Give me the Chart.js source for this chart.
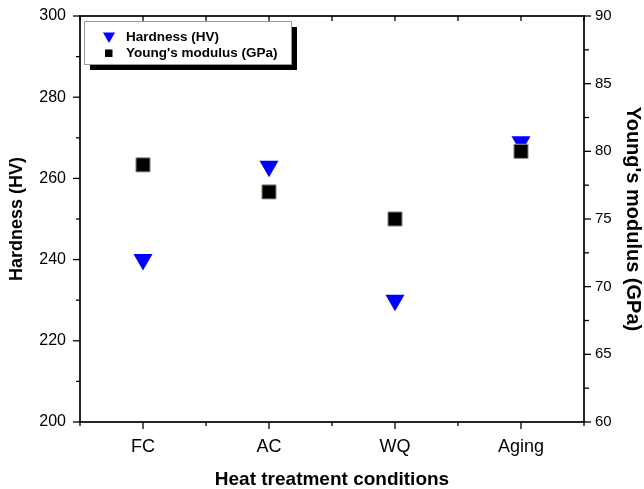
<!DOCTYPE html>
<html>
<head>
<meta charset="utf-8">
<script src="https://cdn.jsdelivr.net/npm/chart.js@4/dist/chart.umd.min.js"></script>
<style>
	body { margin: 0; background: #fff; }
	#wrap { width: 644px; height: 489px; position: relative; }
</style>
</head>
<body>
<div id="wrap"><canvas id="hardnessChart"></canvas></div>
<script>
const categories = ["FC", "AC", "WQ", "Aging"];
const hardness = [240, 263, 230, 269];
const youngsModulus = [79, 77, 75, 80];
const hardnessLabel = "Hardness (HV)";
const modulusLabel = "Young's modulus (GPa)";

const FONT = "'Liberation Sans', Arial, sans-serif";

// frame, tick marks (major/minor) and the boxed legend, Origin style
const axisFrame = {
	id: "axisFrame",
	afterDraw(chart) {
		const { ctx, chartArea: a, scales } = chart;
		const line = (x1, y1, x2, y2) => {
			ctx.beginPath();
			ctx.moveTo(x1, y1);
			ctx.lineTo(x2, y2);
			ctx.stroke();
		};
		ctx.save();
		ctx.strokeStyle = "#000";
		ctx.lineWidth = 1.3;

		const xs = scales.x;
		categories.forEach((c, i) => {
			const px = xs.getPixelForValue(i);
			line(px, a.bottom, px, a.bottom + 7);
			line(px, a.top, px, a.top + 5);
		});
		for (let i = 0; i <= categories.length; i++) {
			const px = xs.getPixelForValue(i - 0.5);
			line(px, a.bottom, px, a.bottom + 4);
			line(px, a.top, px, a.top + 5);
		}

		scales.y.ticks.forEach((t) => {
			const py = scales.y.getPixelForValue(t.value);
			line(a.left - (t.value % 20 === 0 ? 7 : 4), py, a.left, py);
		});
		scales.y1.ticks.forEach((t) => {
			const py = scales.y1.getPixelForValue(t.value);
			line(a.right, py, a.right + (t.value % 5 === 0 ? 7 : 5), py);
		});

		ctx.lineWidth = 1.7;
		ctx.strokeRect(a.left, a.top, a.right - a.left, a.bottom - a.top);

		// legend box with drop shadow
		const lx = a.left + 4, ly = a.top + 5, lw = 207, lh = 43;
		ctx.fillStyle = "#000";
		ctx.fillRect(lx + 6, ly + 6, lw, lh);
		ctx.fillStyle = "#fff";
		ctx.fillRect(lx, ly, lw, lh);
		ctx.strokeStyle = "#999";
		ctx.lineWidth = 1;
		ctx.strokeRect(lx + 0.5, ly + 0.5, lw, lh);

		const mx = lx + 25;
		const r = 7;
		const t1 = ly + 15, t2 = ly + 32;
		ctx.fillStyle = "#0000ff";
		ctx.beginPath();
		ctx.moveTo(mx - r * 0.866, t1 - r / 2);
		ctx.lineTo(mx + r * 0.866, t1 - r / 2);
		ctx.lineTo(mx, t1 + r);
		ctx.closePath();
		ctx.fill();
		ctx.fillStyle = "#000";
		ctx.fillRect(mx - 4, t2 - 3.5, 7.5, 7.5);

		ctx.font = "bold 13.5px " + FONT;
		ctx.textBaseline = "middle";
		ctx.textAlign = "left";
		ctx.fillText(chart.data.datasets[0].label, lx + 42, t1 + 1);
		ctx.fillText(chart.data.datasets[1].label, lx + 42, t2 + 0);
		ctx.restore();
	},
};

document.addEventListener("DOMContentLoaded", function () {
	const ctx = document.getElementById("hardnessChart").getContext("2d");

	new Chart(ctx, {
		type: "line",
		data: {
			labels: categories,
			datasets: [
				{
					label: hardnessLabel,
					data: hardness,
					yAxisID: "y",
					showLine: false,
					pointStyle: "triangle",
					rotation: 180,
					pointRadius: 11,
					pointBackgroundColor: "#0000ff",
					pointBorderColor: "#0000ff",
					pointBorderWidth: 0,
					order: 1,
				},
				{
					label: modulusLabel,
					data: youngsModulus,
					yAxisID: "y1",
					showLine: false,
					pointStyle: "rect",
					pointRadius: 10,
					pointBackgroundColor: "#000",
					pointBorderColor: "#999",
					pointBorderWidth: 1,
					order: 0,
				},
			],
		},
		options: {
			responsive: true,
			maintainAspectRatio: false,
			animation: false,
			layout: { padding: { top: 16, left: 0, right: 0, bottom: 0 } },
			plugins: {
				legend: { display: false },
				tooltip: { enabled: false },
			},
			scales: {
				x: {
					type: "category",
					offset: true,
					grid: { display: false, drawTicks: false },
					border: { display: false },
					ticks: {
						color: "#000",
						padding: 14,
						font: { family: FONT, size: 18 },
					},
					title: {
						display: true,
						text: "Heat treatment conditions",
						color: "#000",
						padding: { top: 0, bottom: -2 },
						font: { family: FONT, size: 19, weight: "bold" },
					},
					afterFit: (s) => {
						s.height = 67;
						s.paddingLeft = 0;
						s.paddingRight = 0;
					},
				},
				y: {
					position: "left",
					min: 200,
					max: 300,
					grid: { display: false, drawTicks: false },
					border: { display: false },
					ticks: {
						stepSize: 10,
						autoSkip: false,
						color: "#000",
						padding: 14,
						font: { family: FONT, size: 16 },
						callback: (v) => (v % 20 === 0 ? v : ""),
					},
					title: {
						display: true,
						text: hardnessLabel,
						color: "#000",
						padding: { top: 6, bottom: 0 },
						font: { family: FONT, size: 18, weight: "bold" },
					},
					afterFit: (s) => {
						s.width = 80;
						s.paddingTop = 0;
						s.paddingBottom = 0;
					},
				},
				y1: {
					position: "right",
					min: 60,
					max: 90,
					grid: { display: false, drawTicks: false },
					border: { display: false },
					ticks: {
						stepSize: 2.5,
						autoSkip: false,
						color: "#000",
						padding: 11,
						font: { family: FONT, size: 15 },
						callback: (v) => (v % 5 === 0 ? v : ""),
					},
					title: {
						display: true,
						text: modulusLabel,
						color: "#000",
						padding: { top: -1, bottom: 0 },
						font: { family: FONT, size: 20, weight: "bold" },
					},
					afterFit: (s) => {
						s.width = 60;
						s.paddingTop = 0;
						s.paddingBottom = 0;
					},
				},
			},
		},
		plugins: [axisFrame],
	});
});
</script>
</body>
</html>
